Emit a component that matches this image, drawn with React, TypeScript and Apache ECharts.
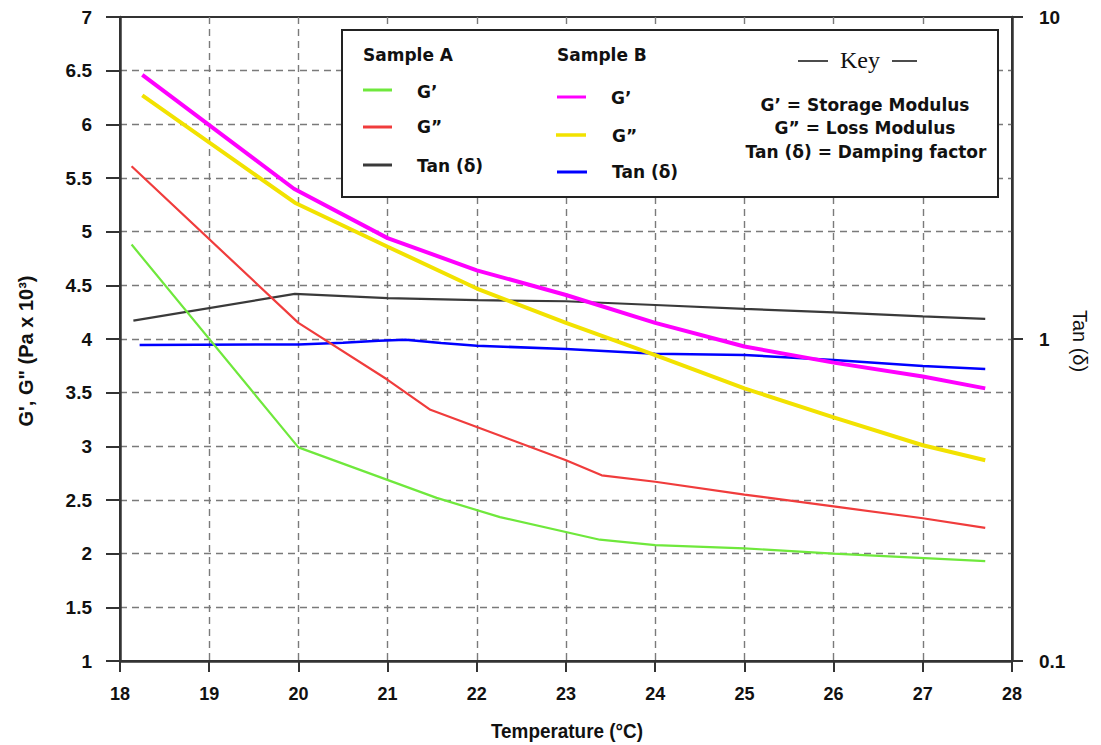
import React, { useEffect, useRef } from "react";
import * as echarts from "echarts";

// Temperature (°C) and values
const aStorageT = [18.13, 20, 21.55, 22.26, 23.38, 24, 25, 26, 27.7];
const aStorageV = [4.88, 2.99, 2.52, 2.34, 2.13, 2.08, 2.05, 2.0, 1.93];

const aLossT = [18.13, 20, 21, 21.48, 22, 23, 23.4, 24, 25, 26, 27, 27.7];
const aLossV = [5.61, 4.15, 3.62, 3.34, 3.18, 2.87, 2.73, 2.67, 2.55, 2.44, 2.33, 2.24];

const aTanT = [18.15, 19.96, 21, 22, 23, 24, 25, 26, 27, 27.7];
const aTanV = [1.14, 1.38, 1.34, 1.32, 1.31, 1.275, 1.24, 1.21, 1.175, 1.155];

const bStorageT = [18.25, 19.95, 21, 22, 23, 24, 25, 26, 27, 27.7];
const bStorageV = [6.46, 5.4, 4.94, 4.64, 4.41, 4.15, 3.93, 3.78, 3.65, 3.54];

const bLossT = [18.25, 19.96, 21, 22, 23, 24, 25, 26, 27, 27.7];
const bLossV = [6.27, 5.27, 4.86, 4.47, 4.15, 3.85, 3.54, 3.27, 3.01, 2.87];

const bTanT = [18.22, 20, 20.5, 20.9, 21.2, 21.6, 22, 23, 24, 25, 26, 27, 27.7];
const bTanV = [0.958, 0.962, 0.974, 0.988, 0.995, 0.972, 0.953, 0.931, 0.9, 0.892, 0.86, 0.825, 0.807];

const xTicks = { min: 18, max: 28, interval: 1 };
const yTicks = { min: 1, max: 7, interval: 0.5 };
const tanTicks = { min: 0.1, max: 10 };

const pairs = (t: number[], v: number[]) => t.map((x, i) => [x, v[i]]);

const SANS = '"Liberation Sans", Arial, sans-serif';
const LEG = '"DejaVu Sans", "Liberation Sans", sans-serif';

export default function App() {
  const ref = useRef<HTMLDivElement>(null);
  useEffect(() => {
    if (!ref.current) return;
    const chart = echarts.init(ref.current, null, { renderer: "svg" });
    const axisLine = { show: true, onZero: false, lineStyle: { color: "#333", width: 2.5 } };
    const dashed = { color: "#7a7a7a", width: 1.4, type: [7, 5] as any };
    const mkLine = (name: string, data: number[][], color: string, width: number, yAxisIndex: number, z: number) => ({
      name,
      type: "line",
      data,
      yAxisIndex,
      showSymbol: false,
      symbol: "none",
      z,
      lineStyle: { color, width },
      silent: true,
    });
    const legText = (text: string, x: number, y: number, extra: any = {}) => ({
      type: "text",
      x,
      y,
      z: 110,
      style: {
        text,
        fill: "#111",
        fontFamily: LEG,
        fontWeight: "bold",
        fontSize: 17,
        align: "left",
        verticalAlign: "middle",
        ...extra,
      },
    });
    const legLine = (x1: number, x2: number, y: number, color: string, w: number) => ({
      type: "line",
      z: 110,
      shape: { x1, y1: y, x2, y2: y },
      style: { stroke: color, lineWidth: w },
    });
    chart.setOption({
      animation: false,
      backgroundColor: "#fff",
      grid: { left: 120, right: 89, top: 17, bottom: 84, show: true, borderColor: "#333", borderWidth: 2 },
      xAxis: {
        type: "value",
        ...xTicks,
        axisLine,
        axisTick: { show: true, length: 11, lineStyle: { color: "#333", width: 2 } },
        axisLabel: { margin: 24, color: "#111", fontFamily: SANS, fontWeight: "bold", fontSize: 18 },
        splitLine: { show: true, showMinLine: false, showMaxLine: false, lineStyle: dashed },
      },
      yAxis: [
        {
          type: "value",
          position: "left",
          ...yTicks,
          axisLine,
          axisTick: { show: true, length: 14, lineStyle: { color: "#333", width: 2 } },
          axisLabel: { margin: 28, color: "#111", fontFamily: SANS, fontWeight: "bold", fontSize: 19 },
          splitLine: { show: true, showMinLine: false, showMaxLine: false, lineStyle: dashed },
        },
        {
          type: "log",
          logBase: 10,
          position: "right",
          ...tanTicks,
          axisLine,
          axisTick: { show: true, length: 11, lineStyle: { color: "#333", width: 2 } },
          axisLabel: {
            margin: 27,
            color: "#111",
            fontFamily: SANS,
            fontWeight: "bold",
            fontSize: 19,
            formatter: (v: number) => (v < 1 ? v.toFixed(1) : String(Math.round(v))),
          },
          splitLine: { show: false },
        },
      ],
      series: [
        mkLine("Sample A Tan (δ)", pairs(aTanT, aTanV), "#3a3a3a", 2.2, 1, 2),
        mkLine("Sample B Tan (δ)", pairs(bTanT, bTanV), "#0000ff", 2.5, 1, 3),
        mkLine("Sample A G’", pairs(aStorageT, aStorageV), "#6fe83c", 2.2, 0, 4),
        mkLine("Sample A G”", pairs(aLossT, aLossV), "#f03c3c", 2.2, 0, 5),
        mkLine("Sample B G’", pairs(bStorageT, bStorageV), "#ff00ff", 4, 0, 6),
        mkLine("Sample B G”", pairs(bLossT, bLossV), "#f2e200", 4, 0, 7),
      ],
      graphic: [
        {
          type: "text",
          x: 26,
          y: 351,
          rotation: Math.PI / 2,
          style: {
            text: "G', G\" (Pa x 10³)",
            fill: "#111",
            fontFamily: SANS,
            fontWeight: "bold",
            fontSize: 20,
            align: "center",
            verticalAlign: "middle",
          },
        },
        {
          type: "text",
          x: 1080,
          y: 341,
          rotation: -Math.PI / 2,
          style: {
            text: "Tan (δ)",
            fill: "#111",
            fontFamily: SANS,
            fontWeight: "normal",
            fontSize: 20,
            align: "center",
            verticalAlign: "middle",
          },
        },
        {
          type: "text",
          x: 567,
          y: 731,
          scaleX: 0.9,
          style: {
            text: "Temperature (°C)",
            fill: "#111",
            fontFamily: SANS,
            fontWeight: "bold",
            fontSize: 21,
            align: "center",
            verticalAlign: "middle",
          },
        },
        {
          type: "rect",
          z: 100,
          shape: { x: 342, y: 30, width: 656, height: 167 },
          style: { fill: "#fff", stroke: "#222", lineWidth: 2 },
        },
        legText("Sample A", 363, 55),
        legText("Sample B", 557, 55),
        legLine(363, 392, 90, "#6fe83c", 3),
        legText("G’", 417, 92),
        legLine(363, 392, 127, "#f03c3c", 3),
        legText("G”", 417, 127),
        legLine(363, 392, 165, "#3a3a3a", 3),
        legText("Tan (δ)", 417, 166),
        legLine(557, 586, 97, "#ff00ff", 3),
        legText("G’", 611, 98),
        legLine(556, 586, 135, "#f2e200", 3.5),
        legText("G”", 612, 136),
        legLine(557, 587, 172, "#0000ff", 3),
        legText("Tan (δ)", 612, 172),
        legLine(798, 828, 61, "#111", 1.5),
        legLine(892, 917, 61, "#111", 1.5),
        {
          type: "text",
          x: 860,
          y: 60,
          z: 110,
          style: {
            text: "Key",
            fill: "#111",
            fontFamily: '"Liberation Serif", "Times New Roman", serif',
            fontSize: 24,
            align: "center",
            verticalAlign: "middle",
          },
        },
        legText("G’ = Storage Modulus", 865, 105, { align: "center" }),
        legText("G” = Loss Modulus", 865, 128, { align: "center" }),
        legText("Tan (δ) = Damping factor", 866, 152, { align: "center" }),
      ],
    });
    return () => chart.dispose();
  }, []);
  return <div ref={ref} style={{ position: "fixed", left: 0, top: 0, width: 1101, height: 745 }} />;
}
